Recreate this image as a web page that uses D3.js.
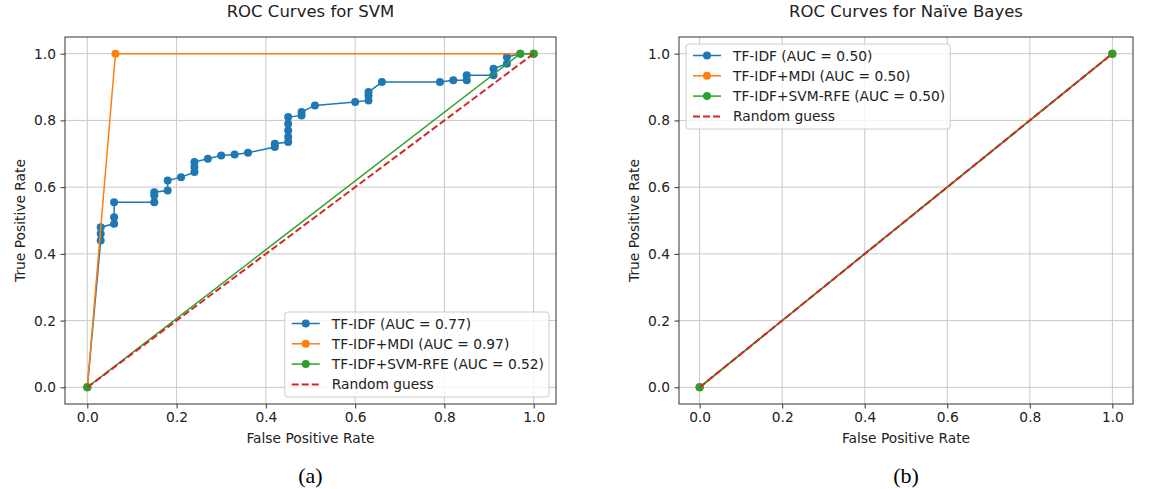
<!DOCTYPE html>
<html>
<head>
<meta charset="utf-8">
<script src="https://cdn.jsdelivr.net/npm/d3@7"></script>
<style>
  body { margin: 0; background: #fff; }
  svg text { font-family: "DejaVu Sans", sans-serif; fill: #222; }
</style>
</head>
<body>
<svg id="fig" width="1164" height="489"></svg>
<script>
// Axis ticks shared by both panels
const tickValues = [0, 0.2, 0.4, 0.6, 0.8, 1.0];
const tickLabels = ["0.0", "0.2", "0.4", "0.6", "0.8", "1.0"];

// Series names and colours
const seriesNames = ["TF-IDF", "TF-IDF+MDI", "TF-IDF+SVM-RFE"];
const seriesColors = ["#1f77b4", "#ff7f0e", "#2ca02c"];
const randomColor = "#d62728";
const randomLabel = "Random guess";

// AUC values per model
const svmAuc = [0.77, 0.97, 0.52];
const nbAuc = [0.50, 0.50, 0.50];

// SVM ROC points [FPR, TPR]
const svmTfidf = [
  [0, 0], [0.03, 0.44], [0.03, 0.46], [0.03, 0.48], [0.06, 0.49], [0.06, 0.51],
  [0.06, 0.555], [0.15, 0.555], [0.15, 0.575], [0.15, 0.585], [0.18, 0.59],
  [0.18, 0.62], [0.21, 0.63], [0.24, 0.645], [0.24, 0.66], [0.24, 0.675],
  [0.27, 0.685], [0.30, 0.695], [0.33, 0.698], [0.36, 0.703], [0.42, 0.72],
  [0.42, 0.73], [0.45, 0.735], [0.45, 0.75], [0.45, 0.77], [0.45, 0.79],
  [0.45, 0.81], [0.48, 0.815], [0.48, 0.825], [0.51, 0.845], [0.60, 0.855],
  [0.63, 0.86], [0.63, 0.875], [0.63, 0.885], [0.66, 0.915], [0.79, 0.915],
  [0.82, 0.92], [0.85, 0.92], [0.85, 0.935], [0.91, 0.935], [0.91, 0.955],
  [0.94, 0.97], [0.94, 0.99], [0.97, 1.0], [1.0, 1.0]
];
const svmMdi = [[0, 0], [0.063, 1.0], [1.0, 1.0]];
const svmRfe = [[0, 0], [0.97, 1.0], [1.0, 1.0]];

// Naive Bayes ROC points [FPR, TPR]
const nbTfidf = [[0, 0], [1.0, 1.0]];
const nbMdi = [[0, 0], [1.0, 1.0]];
const nbRfe = [[0, 0], [1.0, 1.0]];

// Chance diagonal
const randomGuess = [[0, 0], [1, 1]];

const svg = d3.select("#fig");
const FS = 13.8;

function drawPanel(cfg) {
  const g = svg.append("g");
  const x = d3.scaleLinear().domain([-0.05, 1.05]).range([cfg.left, cfg.right]);
  const y = d3.scaleLinear().domain([-0.05, 1.05]).range([cfg.bottom, cfg.top]);

  // grid
  const grid = g.append("g").attr("stroke", "#c9c9c9").attr("stroke-width", 1);
  tickValues.forEach(t => {
    grid.append("line").attr("x1", x(t)).attr("x2", x(t)).attr("y1", cfg.top).attr("y2", cfg.bottom);
    grid.append("line").attr("y1", y(t)).attr("y2", y(t)).attr("x1", cfg.left).attr("x2", cfg.right);
  });

  // axes
  const fmt = (d, i) => tickLabels[i];
  const xAxis = g.append("g").attr("transform", `translate(0,${cfg.bottom})`)
    .call(d3.axisBottom(x).tickValues(tickValues).tickFormat(fmt).tickSize(4.5).tickPadding(4));
  const yAxis = g.append("g").attr("transform", `translate(${cfg.left},0)`)
    .call(d3.axisLeft(y).tickValues(tickValues).tickFormat(fmt).tickSize(4.5).tickPadding(4.5));
  [xAxis, yAxis].forEach(a => {
    a.select(".domain").remove();
    a.selectAll(".tick line").attr("stroke", "#333");
    a.selectAll(".tick text").style("font-size", FS + "px").attr("fill", "#333")
      .style("font-family", "'DejaVu Sans', sans-serif");
  });

  // curves
  const line = d3.line().x(d => x(d[0])).y(d => y(d[1]));
  cfg.curves.forEach((pts, i) => {
    g.append("path").datum(pts).attr("d", line).attr("fill", "none")
      .attr("stroke", seriesColors[i]).attr("stroke-width", 1.5);
    g.append("g").selectAll("circle").data(pts).join("circle")
      .attr("cx", d => x(d[0])).attr("cy", d => y(d[1])).attr("r", 4)
      .attr("fill", seriesColors[i]);
  });
  g.append("path").datum(randomGuess).attr("d", line).attr("fill", "none")
    .attr("stroke", randomColor).attr("stroke-width", 2).attr("stroke-dasharray", "7,3");

  // frame
  g.append("rect").attr("x", cfg.left).attr("y", cfg.top)
    .attr("width", cfg.right - cfg.left).attr("height", cfg.bottom - cfg.top)
    .attr("fill", "none").attr("stroke", "#333").attr("stroke-width", 1);

  // titles and labels
  const cx = (cfg.left + cfg.right) / 2;
  g.append("text").attr("x", cx).attr("y", 17).attr("text-anchor", "middle")
    .style("font-size", "16.5px").text(cfg.title);
  g.append("text").attr("x", cx).attr("y", 443).attr("text-anchor", "middle")
    .style("font-size", FS + "px").attr("fill", "#333").text("False Positive Rate");
  g.append("text").attr("transform", `translate(${cfg.left - 40},${(cfg.top + cfg.bottom) / 2}) rotate(-90)`)
    .attr("text-anchor", "middle").style("font-size", FS + "px").attr("fill", "#333")
    .text("True Positive Rate");
  g.append("text").attr("x", cx).attr("y", 483).attr("text-anchor", "middle")
    .style("font-family", "'Liberation Serif', 'Times New Roman', serif")
    .style("font-size", "22px").style("fill", "#000").text(cfg.caption);

  // legend
  const labels = seriesNames.map((n, i) => `${n} (AUC = ${cfg.aucs[i].toFixed(2)})`).concat([randomLabel]);
  const lg = g.append("g");
  const box = lg.append("rect").attr("fill", "#fff").attr("fill-opacity", 0.8)
    .attr("stroke", "#cccccc").attr("rx", 3);
  const rowH = 20.3, padL = 7, padR = 5, handleLen = 28, handlePad = 12, firstRow = 11.5, h = 85;
  const texts = labels.map((t, i) => lg.append("text")
    .attr("x", padL + handleLen + handlePad).attr("y", firstRow + rowH * i + 5)
    .style("font-size", FS + "px").attr("fill", "#333").text(t));
  const maxW = d3.max(texts, t => t.node().getComputedTextLength());
  const w = padL + handleLen + handlePad + maxW + padR;
  box.attr("width", w).attr("height", h);
  labels.forEach((t, i) => {
    const yy = firstRow + rowH * i;
    if (i < 3) {
      lg.append("line").attr("x1", padL).attr("x2", padL + handleLen).attr("y1", yy).attr("y2", yy)
        .attr("stroke", seriesColors[i]).attr("stroke-width", 1.5);
      lg.append("circle").attr("cx", padL + handleLen / 2).attr("cy", yy).attr("r", 4).attr("fill", seriesColors[i]);
    } else {
      lg.append("line").attr("x1", padL).attr("x2", padL + handleLen).attr("y1", yy).attr("y2", yy)
        .attr("stroke", randomColor).attr("stroke-width", 2).attr("stroke-dasharray", "7,3");
    }
  });
  const off = 7;
  if (cfg.legendPos === "lower right") {
    lg.attr("transform", `translate(${cfg.right - off - w},${cfg.bottom - off - h})`);
  } else {
    lg.attr("transform", `translate(${cfg.left + off},${cfg.top + off})`);
  }
}

drawPanel({
  left: 65, right: 556, top: 37, bottom: 404,
  title: "ROC Curves for SVM", caption: "(a)",
  curves: [svmTfidf, svmMdi, svmRfe], aucs: svmAuc, legendPos: "lower right"
});
drawPanel({
  left: 679, right: 1133, top: 37, bottom: 404,
  title: "ROC Curves for Naïve Bayes", caption: "(b)",
  curves: [nbTfidf, nbMdi, nbRfe], aucs: nbAuc, legendPos: "upper left"
});
</script>
</body>
</html>
